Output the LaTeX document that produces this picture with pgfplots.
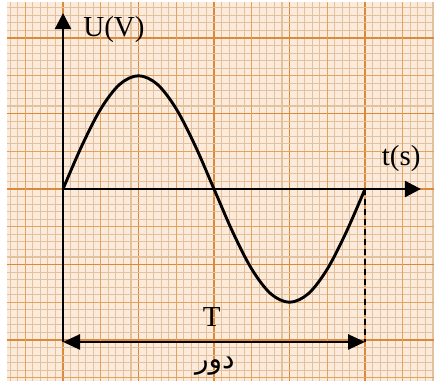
\documentclass[border=0pt]{standalone}
\usepackage{fontspec}
\setmainfont{Liberation Serif}
\newfontfamily\arabicfont[Script=Arabic]{DejaVu Sans}
\TeXXeTstate=1
\usepackage{pgfplots}
\pgfplotsset{compat=1.18}
\usetikzlibrary{arrows.meta}
\definecolor{paper}{HTML}{FCEADB}
\definecolor{minorc}{HTML}{E2C29E}
\definecolor{medc}{HTML}{E3A35E}
\definecolor{majc}{HTML}{DB8A3C}
\begin{document}
\begin{tikzpicture}
\begin{axis}[
  scale only axis,
  width=427pt, height=379pt,
  xmin=-0.742, xmax=4.914,
  ymin=-2.543, ymax=2.477,
  axis line style={draw=none},
  axis background/.style={fill=paper},
  xtick={-1,0,1,2,3,4,5},
  ytick={-3,-2,-1,0,1,2,3},
  minor x tick num=9, minor y tick num=9,
  xticklabels={}, yticklabels={},
  major tick length=0pt, minor tick length=0pt,
  grid=both,
  minor grid style={minorc, line width=1.1pt},
  major grid style={majc, line width=1.8pt},
  extra x ticks={-0.5,0.5,1.5,2.5,3.5,4.5},
  extra y ticks={-2.5,-1.5,-0.5,0.5,1.5,2.5},
  extra x tick labels={}, extra y tick labels={},
  extra tick style={grid=major, major grid style={medc, line width=1.4pt}},
  clip=true,
]
% sine curve
\addplot[black, line width=2.9pt, smooth, tension=0.55] coordinates {
 (0,0) (0.25,0.574) (0.5,1.061) (0.75,1.386) (1,1.5) (1.25,1.386) (1.5,1.061) (1.75,0.574)
 (2,0) (2.25,-0.574) (2.5,-1.061) (2.75,-1.386) (3,-1.5) (3.25,-1.386) (3.5,-1.061) (3.75,-0.574) (4,0)};
% y axis
\addplot[black, line width=2.6pt, -{Triangle[length=16pt,width=16pt]}] coordinates {(0,-2.026) (0,2.33)};
% x axis
\addplot[black, line width=2.6pt, -{Triangle[length=16pt,width=16pt]}] coordinates {(0,0) (4.74,0)};
% period arrow
\addplot[black, line width=2.6pt, {Triangle[length=17pt,width=15pt]}-{Triangle[length=17pt,width=15pt]}] coordinates {(0,-2.026) (4,-2.026)};
% dashed
\addplot[black, line width=2.2pt, dash pattern=on 6pt off 4pt] coordinates {(4,0) (4,-2.026)};
\node[font=\fontsize{29}{30}\selectfont] at (axis cs:0.675,2.11) {U(V)};
\node[font=\fontsize{29}{30}\selectfont] at (axis cs:4.48,0.40) {t(s)};
\node[font=\fontsize{29}{30}\selectfont] at (axis cs:1.97,-1.70) {T};
\node[font=\fontsize{28}{30}\selectfont] at (axis cs:2.01,-2.35) {\arabicfont\beginR دور\endR};
\end{axis}
\pgfresetboundingbox
\path[use as bounding box] ([xshift=-7pt]current axis.south west) rectangle ([yshift=2pt]current axis.north east);
\end{tikzpicture}
\end{document}
